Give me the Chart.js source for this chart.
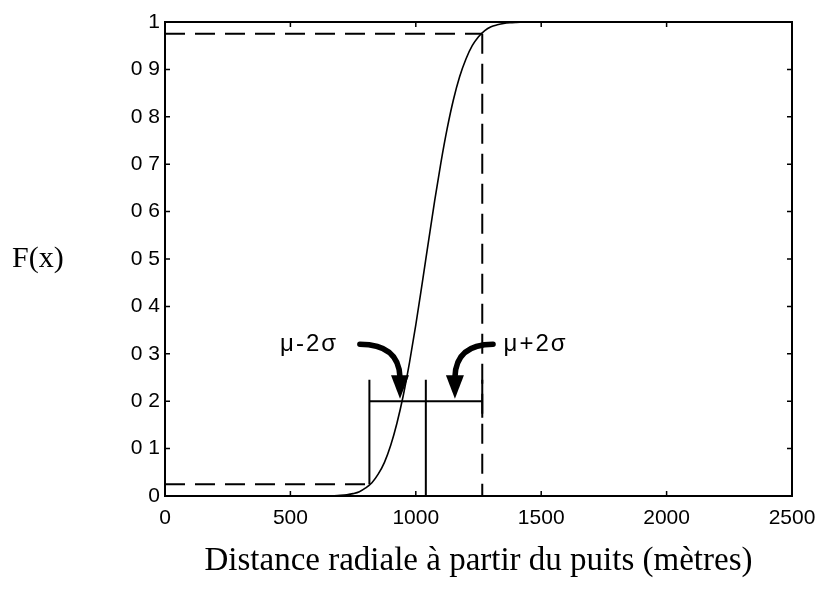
<!DOCTYPE html>
<html><head><meta charset="utf-8">
<script src="https://cdn.jsdelivr.net/npm/chart.js@4/dist/chart.umd.min.js"></script>
<style>html,body{margin:0;padding:0;background:#fff}#wrap{width:819px;height:590px}</style>
</head><body><div id="wrap"><canvas id="c" width="819" height="590"></canvas></div>
<script>
// ---- data ----
const distances = [0, 500, 600, 650, 675, 700, 725, 750, 775, 800, 825, 850, 875, 900, 925, 950, 975, 1000, 1025, 1050, 1075, 1100, 1125, 1150, 1175, 1200, 1225, 1250, 1275, 1300, 1325, 1350, 1375, 1400, 1450, 1500, 2000, 2500];
const cdfValues = [0, 0, 0, 0.0003, 0.0006, 0.0013, 0.0026, 0.005, 0.009, 0.017, 0.028, 0.046, 0.071, 0.107, 0.154, 0.212, 0.282, 0.361, 0.447, 0.535, 0.622, 0.703, 0.775, 0.836, 0.885, 0.922, 0.950, 0.969, 0.982, 0.990, 0.994, 0.997, 0.9986, 0.9993, 1, 1, 1, 1];
const xTickValues = [0, 500, 1000, 1500, 2000, 2500];
const xTickLabels = ['0', '500', '1000', '1500', '2000', '2500'];
const yTickLabels = ['0', '0 1', '0 2', '0 3', '0 4', '0 5', '0 6', '0 7', '0 8', '0 9', '1'];
const mu = 1040;
const muMinus2Sigma = 815;
const muPlus2Sigma = 1265;
const lowLevel = 0.025;
const highLevel = 0.975;
const barLevel = 0.2;
const barTop = 0.245;
const rightMarkBottom = 0.165;
const labelLevel = 0.32;
const arrowBase = 0.255;
const arrowTip = 0.205;
const leftArrowX = [777, 932, 937];   // start, bend, tip
const rightArrowX = [1308, 1160, 1156];
const labels = ['\u03bc-2\u03c3', '\u03bc+2\u03c3'];
const labelX = [690, 1350];
const xTitle = 'Distance radiale \u00e0 partir du puits (m\u00e8tres)';
const yTitle = 'F(x)';

const curve = distances.map((d, i) => ({x: d, y: cdfValues[i]}));
const seg = (a, b, c, d) => [{x: a, y: b}, {x: c, y: d}];
const dashed = [20, 10];
const ds = (data, dash) => ({data, showLine: true, borderColor: '#000', borderWidth: 2, pointRadius: 0, borderDash: dash || [], fill: false, tension: 0});

const overlay = {
  id: 'overlay',
  afterDatasetsDraw(chart) {
    const {ctx, chartArea: a, scales: {x, y}} = chart;
    ctx.save();
    // frame
    ctx.strokeStyle = '#000';
    ctx.lineWidth = 2;
    ctx.strokeRect(a.left, a.top, a.right - a.left, a.bottom - a.top);
    // inward ticks
    ctx.lineWidth = 1.5;
    const tl = 5;
    xTickValues.forEach(v => {
      const px = x.getPixelForValue(v);
      ctx.beginPath(); ctx.moveTo(px, a.bottom); ctx.lineTo(px, a.bottom - tl);
      ctx.moveTo(px, a.top); ctx.lineTo(px, a.top + tl); ctx.stroke();
    });
    yTickLabels.forEach((l, i) => {
      const py = y.getPixelForValue(i / 10);
      ctx.beginPath(); ctx.moveTo(a.left, py); ctx.lineTo(a.left + tl, py);
      ctx.moveTo(a.right, py); ctx.lineTo(a.right - tl, py); ctx.stroke();
    });
    // arrows
    const arrow = (xs) => {
      const sx = x.getPixelForValue(xs[0]), sy = y.getPixelForValue(labelLevel);
      const bx = x.getPixelForValue(xs[1]);
      const tx = x.getPixelForValue(xs[2]);
      const by = y.getPixelForValue(arrowBase), ty = y.getPixelForValue(arrowTip);
      ctx.lineWidth = 5.5;
      ctx.lineCap = 'round';
      ctx.beginPath();
      ctx.moveTo(sx, sy);
      ctx.quadraticCurveTo(bx, sy, tx, by + 2);
      ctx.stroke();
      ctx.beginPath();
      ctx.moveTo(tx - 9, by);
      ctx.lineTo(tx + 9, by);
      ctx.lineTo(tx, ty);
      ctx.closePath();
      ctx.fillStyle = '#000';
      ctx.fill();
    };
    arrow(leftArrowX);
    arrow(rightArrowX);
    // labels
    ctx.fillStyle = '#000';
    ctx.font = '24px "Liberation Sans", Arial, sans-serif';
    ctx.letterSpacing = '2px';
    ctx.textBaseline = 'middle';
    ctx.textAlign = 'right';
    ctx.fillText(labels[0], x.getPixelForValue(labelX[0]), y.getPixelForValue(labelLevel));
    ctx.textAlign = 'left';
    ctx.fillText(labels[1], x.getPixelForValue(labelX[1]), y.getPixelForValue(labelLevel));
    ctx.letterSpacing = '0px';
    // y title
    ctx.font = '30px "Liberation Serif", "Times New Roman", serif';
    ctx.textAlign = 'left';
    ctx.fillText(yTitle, 12, (a.top + a.bottom) / 2);
    ctx.restore();
  }
};

new Chart(document.getElementById('c'), {
  type: 'scatter',
  data: {
    datasets: [
      Object.assign(ds(curve), {cubicInterpolationMode: 'monotone', borderWidth: 1.6}),
      ds(seg(0, highLevel, muPlus2Sigma, highLevel), dashed),
      ds(seg(muPlus2Sigma, highLevel, muPlus2Sigma, 0), dashed),
      ds(seg(0, lowLevel, muMinus2Sigma, lowLevel), dashed),
      ds(seg(muMinus2Sigma, barLevel, muPlus2Sigma, barLevel)),
      ds(seg(muMinus2Sigma, barTop, muMinus2Sigma, lowLevel)),
      ds(seg(mu, barTop, mu, 0)),
      ds(seg(muPlus2Sigma, barTop, muPlus2Sigma, rightMarkBottom))
    ]
  },
  options: {
    responsive: false,
    animation: false,
    devicePixelRatio: 1,
    layout: {padding: {left: 0, right: 27, top: 22, bottom: 0}},
    plugins: {legend: {display: false}, tooltip: {enabled: false}},
    scales: {
      x: {
        type: 'linear', min: 0, max: 2500,
        afterBuildTicks: s => { s.ticks = xTickValues.map(v => ({value: v})); },
        afterFit: s => { s.height = 94; s.paddingLeft = 0; s.paddingRight = 0; },
        grid: {display: false, drawTicks: false},
        border: {display: false},
        ticks: {color: '#000', padding: 10, maxRotation: 0, callback: (v, i) => xTickLabels[i], font: {family: '"Liberation Sans", Arial, sans-serif', size: 21}},
        title: {display: true, text: xTitle, color: '#000', padding: {top: 0, bottom: 9}, font: {family: '"Liberation Serif", "Times New Roman", serif', size: 33}}
      },
      y: {
        type: 'linear', min: 0, max: 1,
        afterBuildTicks: s => { s.ticks = yTickLabels.map((l, i) => ({value: i / 10})); },
        afterFit: s => { s.width = 165; },
        grid: {display: false, drawTicks: false},
        border: {display: false},
        ticks: {color: '#000', padding: 5, callback: (v, i) => yTickLabels[i], font: {family: '"Liberation Sans", Arial, sans-serif', size: 21}}
      }
    }
  },
  plugins: [overlay]
});
</script>
</body></html>
